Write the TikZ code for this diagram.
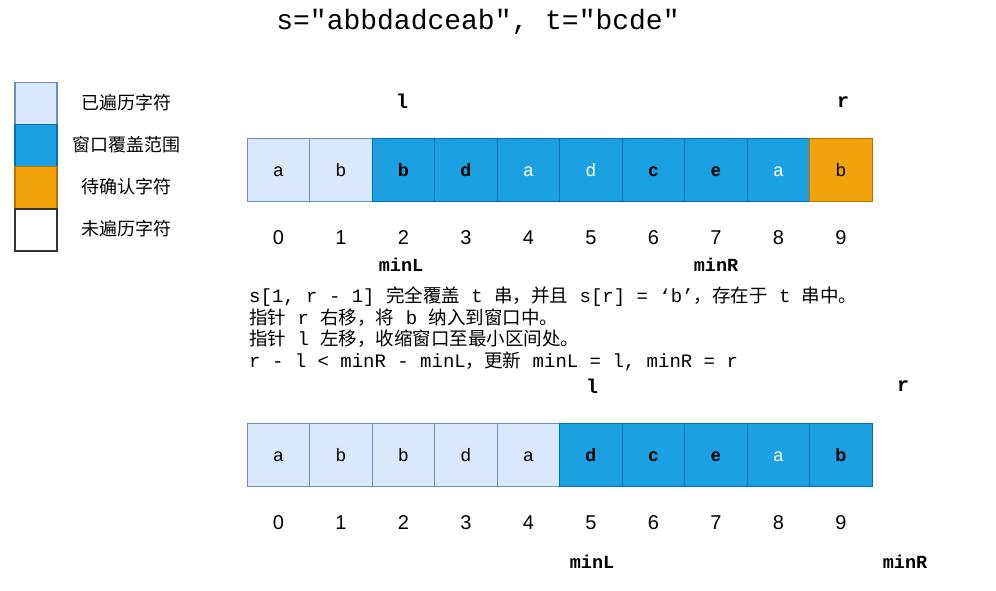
\documentclass[tikz,border=0pt]{standalone}
\usepackage{fontspec}
\usetikzlibrary{calc}
\setmainfont{Liberation Sans}
\newfontfamily\monof{Liberation Mono}
\newfontfamily\cjkf{Noto Sans CJK SC}
\newcommand\Cj[1]{{\fontsize{18.5}{20}\cjkf #1}}
\definecolor{lfill}{HTML}{DAE8FC}
\definecolor{ldraw}{HTML}{6C8EBF}
\definecolor{bfill}{HTML}{1BA1E2}
\definecolor{bdraw}{HTML}{006EAF}
\definecolor{ofill}{HTML}{F0A30A}
\definecolor{odraw}{HTML}{BD7000}
\tikzset{
  cellbox/.style={draw, line width=1.2pt, minimum width=62.5pt, minimum height=63pt, inner sep=0pt, anchor=north west, text height=13pt, text depth=0pt, font=\fontsize{18}{20}\selectfont},
  seen/.style={cellbox, fill=lfill, draw=ldraw},
  win/.style={cellbox, fill=bfill, draw=bdraw},
  pend/.style={cellbox, fill=ofill, draw=odraw},
  legbox/.style={draw, line width=1.5pt, minimum width=42pt, minimum height=42pt, inner sep=0pt, anchor=north west},
  legtxt/.style={font=\fontsize{18}{20}\cjkf, inner sep=0pt},
  idx/.style={font=\fontsize{20}{22}\selectfont, inner sep=0pt, text height=14.5pt, text depth=0pt},
  ptr/.style={font=\fontsize{20}{22}\monof\bfseries, inner sep=0pt},
  mlab/.style={font=\fontsize{18.5}{20}\monof\bfseries, inner sep=0pt},
  expl/.style={font=\fontsize{19}{20}\monof, inner sep=0pt, anchor=west},
}
\begin{document}
\begin{tikzpicture}[x=1pt,y=-1pt]
\useasboundingbox (0,0) rectangle (996,591);
% title
\node[font=\fontsize{28}{30}\monof, inner sep=0pt] (title) at (478,22) {s="abbdadceab", t="bcde"};
% legend
\node[legbox, fill=lfill, draw=ldraw] (lg1) at (14,82) {};
\node[legbox, fill=bfill, draw=bdraw] (lg2) at (14,124) {};
\node[legbox, fill=ofill, draw=odraw] (lg3) at (14,166) {};
\node[legbox, fill=white, draw=black!80] (lg4) at (14,208) {};
\node[legtxt] (lt1) at (126,103) {已遍历字符};
\node[legtxt] (lt2) at (126,145) {窗口覆盖范围};
\node[legtxt] (lt3) at (126,187) {待确认字符};
\node[legtxt] (lt4) at (126,229) {未遍历字符};
% top array
\node[seen] (t0) at (246.5,138) {a};
\node[seen] (t1) at (309,138) {b};
\node[win] (t2) at (371.5,138) {\textbf{b}};
\node[win] (t3) at (434,138) {\textbf{d}};
\node[win, text=white] (t4) at (496.5,138) {a};
\node[win, text=white] (t5) at (559,138) {d};
\node[win] (t6) at (621.5,138) {\textbf{c}};
\node[win] (t7) at (684,138) {\textbf{e}};
\node[win, text=white] (t8) at (746.5,138) {a};
\node[pend] (t9) at (809,138) {b};
\foreach \i in {0,...,9} {
  \node[idx] (ti\i) at ($(t\i.center)+(0,67)$) {\i};
}
\node[ptr] (tl) at (402,101) {l};
\node[ptr] (tr) at (843,102) {r};
\node[mlab] (tminl) at (401,265) {minL};
\node[mlab] (tminr) at (716,265) {minR};
% explanation
\node[expl] (e1) at (249,297) {s[1, r - 1] \Cj{完全覆盖} t \Cj{串，并且} s[r] = ‘b’\Cj{，存在于} t \Cj{串中。}};
\node[expl] (e2) at (249,318) {\Cj{指针} r \Cj{右移，将} b \Cj{纳入到窗口中。}};
\node[expl] (e3) at (249,339) {\Cj{指针} l \Cj{左移，收缩窗口至最小区间处。}};
\node[expl] (e4) at (249,361) {r - l < minR - minL\Cj{，更新} minL = l, minR = r};
% bottom array
\node[seen] (b0) at (246.5,423) {a};
\node[seen] (b1) at (309,423) {b};
\node[seen] (b2) at (371.5,423) {b};
\node[seen] (b3) at (434,423) {d};
\node[seen] (b4) at (496.5,423) {a};
\node[win] (b5) at (559,423) {\textbf{d}};
\node[win] (b6) at (621.5,423) {\textbf{c}};
\node[win] (b7) at (684,423) {\textbf{e}};
\node[win, text=white] (b8) at (746.5,423) {a};
\node[win] (b9) at (809,423) {\textbf{b}};
\foreach \i in {0,...,9} {
  \node[idx] (bi\i) at ($(b\i.center)+(0,67)$) {\i};
}
\node[ptr] (bl) at (592,386) {l};
\node[ptr] (br) at (903,386) {r};
\node[mlab] (bminl) at (592,562) {minL};
\node[mlab] (bminr) at (905,562) {minR};
\end{tikzpicture}
\end{document}
